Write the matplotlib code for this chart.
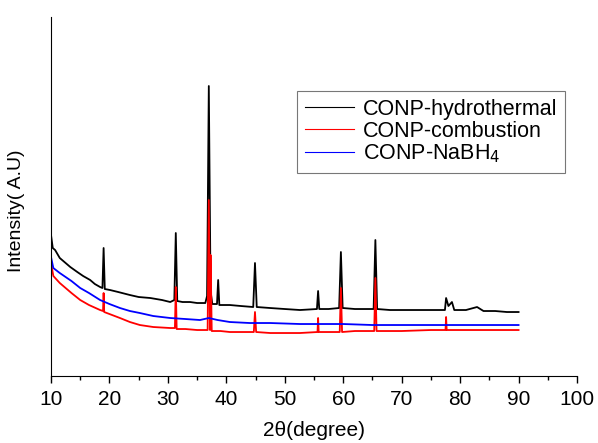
import matplotlib
matplotlib.use("Agg")
import matplotlib.pyplot as plt
from matplotlib.ticker import MultipleLocator

plt.rcParams['font.family'] = ['Liberation Sans', 'DejaVu Sans']

# XRD patterns (2theta in degrees, intensity in arbitrary units)
hydro_x = [10.0, 10.3, 10.7, 11.5, 12.5, 13.3, 14.5, 15.5, 16.7, 17.5, 18.4, 18.8, 19.0, 19.2,
           20.1, 21.5, 23.5, 25.0, 27.0, 29.0, 30.4, 31.1, 31.35, 31.6, 32.5, 33.8, 35.0, 36.4,
           36.7, 37.0, 37.3, 37.6, 38.4, 38.6, 38.8, 40.6, 42.5, 44.6, 44.9, 45.2, 47.5, 50.0,
           52.6, 55.5, 55.7, 55.9, 57.5, 59.3, 59.6, 59.9, 62.0, 65.2, 65.5, 65.8, 68.0, 70.0,
           73.0, 77.4, 77.6, 78.0, 78.6, 79.0, 81.0, 82.9, 84.0, 86.0, 88.0, 90.0]
hydro_y = [141, 128, 126, 118, 113, 109, 104, 100, 96, 92, 89, 88, 128, 87,
           86, 84, 81, 79, 78, 76, 74, 76, 143, 75, 74, 74, 73, 73,
           80, 290, 85, 72, 72, 96, 71, 71, 70, 69, 113, 69, 68, 67,
           66, 67, 85, 67, 67, 68, 124, 68, 67, 67, 136, 67, 66, 66,
           66, 66, 78, 70, 74, 66, 66, 69, 65, 65, 64, 64]

comb_x = [10.0, 10.4, 11.5, 12.5, 13.5, 15.0, 16.5, 18.4, 18.9, 19.0, 19.1, 20.0, 21.8,
          23.5, 25.2, 27.5, 30.4, 31.2, 31.35, 31.5, 33.0, 35.0, 36.8, 37.0, 37.2, 37.3, 37.5,
          39.0, 40.6, 44.7, 44.9, 45.1, 47.5, 52.6, 55.6, 55.7, 55.8, 57.5, 59.4, 59.6, 59.8,
          62.0, 65.3, 65.5, 65.7, 70.0, 75.0, 77.5, 77.6, 77.7, 82.0, 86.0, 90.0]
comb_y = [113, 100, 93, 88, 83, 76, 71, 66, 65, 83, 64, 62, 58,
          54, 51, 49, 48, 48, 89, 47, 47, 46, 46, 176, 46, 121, 45,
          45, 44, 44, 64, 44, 43, 43, 44, 58, 44, 44, 44, 88, 44, 45, 45, 98, 45,
          45, 46, 46, 59, 46, 46, 46, 46]

nabh_x = [10.0, 10.4, 11.5, 12.5, 13.5, 15.0, 16.5, 18.4, 20.0, 21.8, 23.5, 25.2, 27.5,
          30.4, 33.0, 35.5, 37.0, 38.5, 40.6, 44.0, 47.5, 52.6, 57.0, 60.0, 65.0, 70.0,
          75.0, 80.0, 85.0, 90.0]
nabh_y = [119, 108, 103, 99, 95, 88, 83, 76, 72, 68, 65, 63, 60,
          58, 57, 56, 58, 56, 54, 53, 53, 52, 52, 52, 51, 51,
          51, 51, 51, 51]

labels = ['CONP-hydrothermal', 'CONP-combustion', 'CONP-NaBH$_4$']

fig = plt.figure(figsize=(5.98, 4.43), dpi=100)
ax = fig.add_axes([0.0853, 0.1512, 0.8796, 0.8104])

ax.plot(hydro_x, hydro_y, color='black', lw=1.3, label=labels[0])
ax.plot(comb_x, comb_y, color='red', lw=1.3, label=labels[1])
ax.plot(nabh_x, nabh_y, color='blue', lw=1.3, label=labels[2])

ax.set_xlim(10, 100)
ax.set_ylim(0, 359)
ax.xaxis.set_major_locator(MultipleLocator(10))
ax.xaxis.set_minor_locator(MultipleLocator(5))
ax.tick_params(axis='x', which='major', direction='out', length=5, width=1, labelsize=15, pad=5)
ax.tick_params(axis='x', which='minor', direction='out', length=3, width=1)
ax.set_yticks([])
ax.spines['top'].set_visible(False)
ax.spines['right'].set_visible(False)

ax.set_xlabel('2θ(degree)', fontsize=15, labelpad=9)
ax.set_ylabel('Intensity( A.U)', fontsize=14, labelpad=10)
ax.yaxis.set_label_coords(-0.05, 0.46)

leg = ax.legend(loc='upper left', bbox_to_anchor=(0.468, 0.794), borderaxespad=0,
                fontsize=15.5, frameon=True, fancybox=False, edgecolor='#555555',
                handlelength=2.3, borderpad=0.35, labelspacing=0.05, handletextpad=0.4)
leg.get_frame().set_linewidth(0.8)
for h in leg.get_lines():
    h.set_linewidth(0.8)

fig.savefig('out.png', dpi=100)
